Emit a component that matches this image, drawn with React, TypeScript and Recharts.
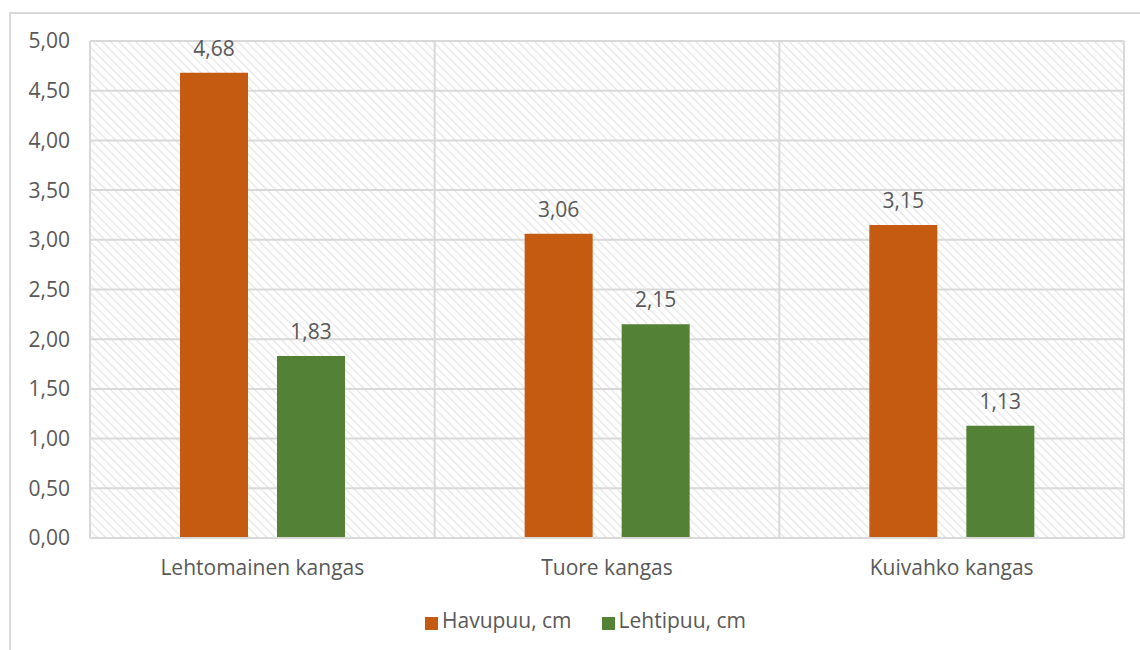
import React from "react";
import { BarChart, Bar, XAxis, YAxis, CartesianGrid, Legend, LabelList } from "recharts";

const categories = ["Lehtomainen kangas", "Tuore kangas", "Kuivahko kangas"];
const havupuu = [4.68, 3.06, 3.15];
const lehtipuu = [1.83, 2.15, 1.13];
const yTicks = [0, 0.5, 1, 1.5, 2, 2.5, 3, 3.5, 4, 4.5, 5];

const data = categories.map((name, i) => ({
  name,
  havupuu: havupuu[i],
  lehtipuu: lehtipuu[i],
}));

const FONT = "'Open Sans', sans-serif";
const SIZE = 21;
const TEXT = "#595959";
const GRID = "#d9d9d9";

const fmt = (v: number) => v.toFixed(2).replace(".", ",");

export default function App() {
  return (
    <div style={{ position: "absolute", left: 0, top: 0, width: 1140, height: 650, background: "#fff", fontFamily: FONT }}>
      <div
        style={{
          position: "absolute",
          left: 9,
          top: 12,
          width: 1200,
          height: 700,
          border: "2px solid #d9d9d9",
          boxSizing: "border-box",
        }}
      />
      <div style={{ position: "absolute", left: 0, top: 0 }}>
        <BarChart
          width={1140}
          height={650}
          data={data}
          margin={{ top: 41, right: 16, bottom: 16, left: 0 }}
          barCategoryGap={90}
          barGap={29}
        >
          <defs>
            {/* light diagonal hatching behind the plot area */}
            <pattern id="hatch" width={6} height={6} patternUnits="userSpaceOnUse" patternTransform="rotate(-45)">
              <rect width={6} height={6} fill="#ffffff" />
              <line x1={0} y1={0} x2={0} y2={6} stroke="#e5e5e5" strokeWidth={2.5} />
            </pattern>
          </defs>
          <CartesianGrid
            fill="url(#hatch)"
            stroke={GRID}
            strokeWidth={2}
            verticalCoordinatesGenerator={({ offset }: any) =>
              categories.map((_, i) => offset.left + (offset.width * i) / categories.length).concat(offset.left + offset.width)
            }
          />
          <XAxis
            dataKey="name"
            axisLine={{ stroke: GRID, strokeWidth: 2 }}
            tickLine={false}
            tickSize={0}
            tickMargin={22}
            height={68}
            tick={{ fill: TEXT, fontSize: SIZE, fontFamily: FONT }}
          />
          <YAxis
            domain={[0, 5]}
            ticks={yTicks}
            axisLine={false}
            tickLine={false}
            tickSize={0}
            tickMargin={20}
            width={90}
            tickFormatter={fmt}
            tick={{ fill: TEXT, fontSize: SIZE, fontFamily: FONT }}
          />
          <Legend
            verticalAlign="bottom"
            iconType="square"
            iconSize={13}
            wrapperStyle={{ left: 425, width: "auto" }}
            formatter={(value: string) => (
              <span style={{ color: TEXT, fontSize: SIZE, fontFamily: FONT, marginRight: 20 }}>{value}</span>
            )}
          />
          <Bar dataKey="havupuu" name="Havupuu, cm" fill="#C55A11" isAnimationActive={false}>
            <LabelList dataKey="havupuu" position="top" offset={17} formatter={fmt} fill={TEXT} fontSize={SIZE} fontFamily={FONT} />
          </Bar>
          <Bar dataKey="lehtipuu" name="Lehtipuu, cm" fill="#538135" isAnimationActive={false}>
            <LabelList dataKey="lehtipuu" position="top" offset={17} formatter={fmt} fill={TEXT} fontSize={SIZE} fontFamily={FONT} />
          </Bar>
        </BarChart>
      </div>
    </div>
  );
}
